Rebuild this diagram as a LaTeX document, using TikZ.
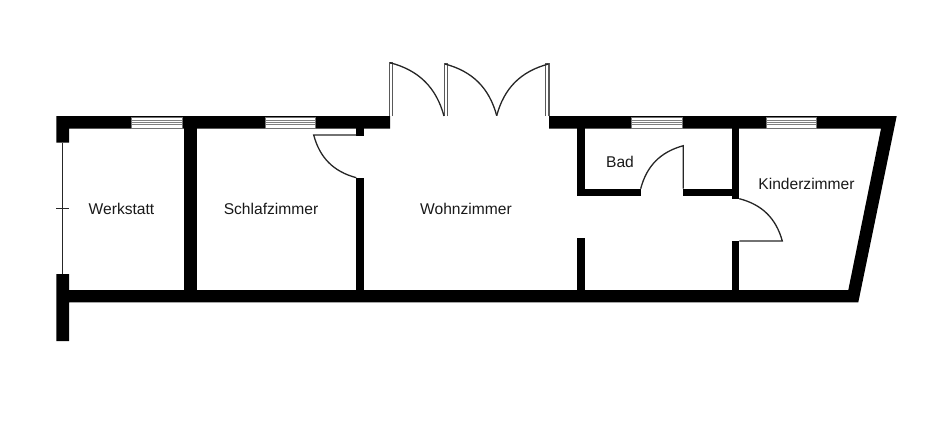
\documentclass[tikz,border=0pt]{standalone}
\usepackage{fontspec}
\setmainfont{Liberation Sans}
\usepackage{tikz}

\begin{document}
\begin{tikzpicture}[x=1pt, y=-1pt,
    wall/.style={fill=black, draw=none},
    leaf/.style={draw=black!85, line width=1.3pt},
    frame/.style={draw=black!65, line width=1.2pt},
    roomlabel/.style={font=\fontsize{15.6pt}{18pt}\selectfont, inner sep=0pt, text=black!90},
    glazing/.style={fill=white, draw=black!55, line width=.6pt,
      path picture={
        \draw[black!50, line width=1pt] ([yshift=-3.8pt]path picture bounding box.north west) -- ([yshift=-3.8pt]path picture bounding box.north east);
        \draw[black!50, line width=1pt] (path picture bounding box.west) -- (path picture bounding box.east);
        \draw[black!50, line width=1pt] ([yshift=3.8pt]path picture bounding box.south west) -- ([yshift=3.8pt]path picture bounding box.south east);
      }}]
    \useasboundingbox (0,0) rectangle (926,437);

    \fill[wall] (56.3,116) -- (390,116) -- (390,128.7) -- (69,128.7) -- (69,142.7) -- (56.3,142.7) -- cycle;
    \fill[wall] (549,116) -- (896.7,116) -- (858.3,302.3) -- (69,302.3) -- (69,341) -- (56.3,341) -- (56.3,274)
      -- (69,274) -- (69,290) -- (848.3,290) -- (881,128.7) -- (549,128.7) -- cycle;

    \fill[wall] (184,128) rectangle (196.7,291);
    \fill[wall] (356.3,128) rectangle (364,135.7);
    \fill[wall] (356.3,177.7) rectangle (364,291);
    \fill[wall] (577.3,128) rectangle (585,196);
    \fill[wall] (577.3,188.7) rectangle (641,196);
    \fill[wall] (682.7,188.7) rectangle (733,196);
    \fill[wall] (577.3,238) rectangle (585,291);
    \fill[wall] (732,128) rectangle (739.3,198.7);
    \fill[wall] (732,240.7) rectangle (739.3,291);

    \draw[glazing] (131.7,116.8) rectangle (182.7,128);
    \draw[glazing] (265,116.8) rectangle (315.7,128);
    \draw[glazing] (631.7,116.8) rectangle (682.3,128);
    \draw[glazing] (766,116.8) rectangle (816.7,128);

    \draw[leaf] (62.7,142.7) -- (62.7,274);
    \draw[leaf] (56.3,208.7) -- (69,208.7);

    \draw[leaf] (356.3,135) -- (313.7,135) to[bend right=30] (356.3,177.7);
    \draw[leaf] (683.3,188.7) -- (683.3,145.7) to[bend right=30] (640.7,188.7);
    \draw[leaf] (739.3,241) -- (782.3,241) to[bend right=30] (739.3,198.7);

    \draw[frame] (392.7,116) -- (392.7,63) -- (389.6,63) -- (389.6,116);
    \draw[frame] (447.5,116) -- (447.5,64) -- (444.4,64) -- (444.4,116);
    \draw[frame] (545.8,116) -- (545.8,64) -- (548.9,64) -- (548.9,116);
    \draw[leaf] (390,62.7) to[bend left=30] (444,116);
    \draw[leaf] (445,64) to[bend left=30] (496.7,115.7);
    \draw[leaf] (548.5,64) to[bend right=30] (496.7,115.7);

    \node[roomlabel] (werkstatt) at (121.5,209) {Werkstatt};
    \node[roomlabel] (schlafzimmer) at (271,209) {Schlafzimmer};
    \node[roomlabel] (wohnzimmer) at (466,209) {Wohnzimmer};
    \node[roomlabel] (bad) at (620,162) {Bad};
    \node[roomlabel] (kinderzimmer) at (806.5,184) {Kinderzimmer};
  \end{tikzpicture}
\end{document}
